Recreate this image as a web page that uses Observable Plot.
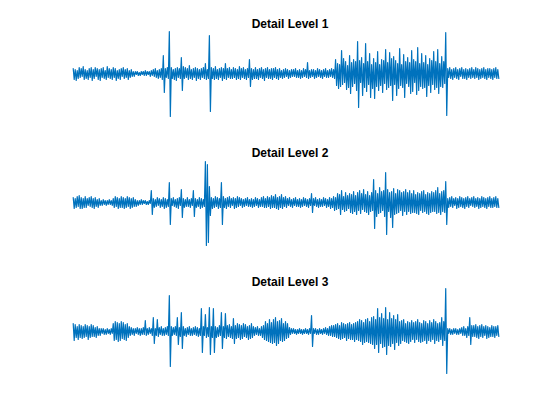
<!DOCTYPE html>
<html>
<head>
<meta charset="utf-8">
<script src="https://cdn.jsdelivr.net/npm/d3@7"></script>
<script src="https://cdn.jsdelivr.net/npm/@observablehq/plot@0.6"></script>
<style>
  html, body { margin: 0; padding: 0; background: #fff; }
  #chart { width: 560px; height: 420px; }
</style>
</head>
<body>
<div id="chart"></div>
<script>
const titles = ["Detail Level 1", "Detail Level 2", "Detail Level 3"];

const detail1 = [
  5,-6,4,-7,3,-5,6,-4,5,-3,7,-6,4,-5,3,-6,5,-4,6,-7,
  4,-5,6,-3,5,-6,4,-7,5,-4,6,-5,3,-6,7,-4,5,-5,4,-6,
  6,-4,5,-7,3,-5,4,-6,5,-3,6,-5,4,-4,5,-6,3,-4,4,-3,
  2,-3,2,-1,2,-2,1,-2,2,-1,2,-2,3,-2,2,-1,2,-3,3,-2,
  4,-3,5,-4,3,-5,4,-4,5,-6,18,-19,5,-4,6,-5,42,-43,6,-5,
  4,-6,5,-7,6,-4,5,-5,16,-17,7,-5,6,-4,5,-6,8,-5,4,-6,
  5,-4,6,-7,5,-5,4,-6,5,-4,6,-5,10,-6,4,-5,38,-38,6,-5,
  5,-6,7,-5,4,-6,5,-4,6,-7,5,-5,10,-6,5,-4,6,-5,4,-5,
  6,-4,5,-6,4,-5,7,-6,5,-4,6,-5,4,-6,5,-4,14,-13,5,-6,
  4,-5,6,-5,4,-6,5,-4,6,-5,4,-7,5,-4,6,-5,4,-5,5,-6,
  5,-4,6,-5,4,-6,5,-4,3,-5,4,-4,5,-3,4,-5,3,-4,4,-3,
  4,-3,5,-4,3,-4,4,-5,3,-4,5,-3,4,-4,11,-5,3,-4,4,-3,
  4,-5,3,-4,5,-3,4,-4,3,-5,4,-3,5,-4,3,-4,4,-3,5,-4,
  4,-5,14,-12,10,-15,9,-13,23,-11,15,-9,12,-16,8,-14,18,-20,11,-13,
  14,-10,12,-17,32,-34,13,-9,16,-22,10,-14,30,-18,12,-11,20,-24,9,-15,
  15,-25,11,-13,22,-17,9,-12,14,-19,13,-10,24,-16,11,-14,21,-12,15,-27,
  17,-11,13,-22,10,-15,25,-12,9,-14,19,-24,12,-10,16,-13,11,-20,23,-18,
  14,-9,12,-21,26,-17,10,-13,20,-15,11,-14,18,-23,9,-12,15,-19,13,-11,
  22,-16,12,-14,24,-20,10,-13,17,-14,12,-10,41,-42,5,-4,6,-5,4,-6,
  5,-4,6,-5,4,-6,5,-3,6,-5,4,-5,5,-6,4,-4,5,-5,6,-4,
  4,-5,6,-4,5,-6,4,-5,5,-4,6,-5,4,-6,5,-4,5,-5,4,-6,
  5,-4,6,-5,4,-5
];

const detail2 = [
  5,-6,4,-5,6,-4,7,-6,5,-6,4,-5,6,-5,4,-3,5,-4,6,-5,
  4,-6,5,-4,3,-5,4,-3,2,-3,3,-2,2,-3,2,-2,3,-2,2,-3,
  4,-5,6,-4,5,-6,4,-5,6,-5,5,-6,4,-5,6,-4,5,-6,4,-5,
  5,-4,3,-4,2,-3,2,-2,3,-2,2,-1,2,-2,1,-2,2,-1,12,-12,
  4,-5,3,-4,5,-3,4,-5,3,-4,5,-6,4,-5,3,-4,20,-22,4,-3,
  5,-4,3,-5,4,-6,5,-3,13,-15,4,-5,3,-4,5,-4,3,-5,4,-3,
  12,-14,4,-5,3,-4,5,-6,4,-5,3,-4,41,-43,38,-40,16,-13,5,-6,
  4,-5,6,-4,5,-6,4,-5,20,-22,6,-5,4,-6,5,-4,6,-5,4,-3,
  5,-6,4,-5,6,-4,5,-3,4,-5,3,-4,4,-3,5,-4,3,-4,4,-5,
  3,-4,5,-3,4,-5,3,-4,5,-4,6,-5,4,-5,6,-4,5,-6,7,-5,
  6,-5,8,-6,5,-7,6,-5,8,-6,5,-4,6,-5,4,-3,5,-4,3,-5,
  4,-3,5,-4,3,-4,4,-5,3,-4,5,-3,4,-4,3,-5,4,-3,9,-10,
  4,-3,5,-4,3,-5,4,-4,3,-4,5,-3,4,-5,3,-4,5,-6,4,-5,
  6,-8,5,-7,9,-6,8,-12,12,-7,6,-9,10,-8,7,-6,9,-10,8,-11,
  11,-9,7,-12,10,-8,12,-11,9,-7,13,-9,8,-10,11,-12,7,-9,10,-8,
  23,-26,12,-14,9,-11,15,-10,11,-8,12,-14,30,-32,13,-9,10,-15,11,-25,
  14,-12,9,-11,13,-10,12,-8,10,-13,11,-9,13,-12,10,-9,12,-11,9,-10,
  12,-10,8,-11,10,-12,9,-8,11,-10,12,-9,8,-11,10,-12,9,-10,11,-9,
  10,-9,12,-11,15,-10,9,-12,11,-9,12,-10,21,-22,4,-5,5,-4,6,-5,
  4,-3,5,-6,4,-5,6,-4,5,-5,4,-6,5,-4,6,-5,4,-3,5,-4,
  6,-5,4,-4,5,-6,4,-5,6,-4,5,-5,4,-6,5,-4,6,-5,4,-5,
  5,-4,6,-5,4,-5
];

const detail3 = [
  8,-9,7,-6,5,-8,7,-6,6,-7,5,-6,7,-5,6,-8,5,-6,7,-5,
  6,-5,4,-6,5,-4,3,-4,3,-2,3,-3,2,-3,3,-2,2,-3,3,-2,
  8,-9,10,-8,9,-10,8,-9,10,-7,9,-8,7,-9,8,-6,5,-4,4,-3,
  3,-4,3,-2,4,-3,3,-4,3,-3,4,-3,11,-4,3,-3,4,-2,3,-4,
  14,-12,3,-4,12,-5,4,-3,5,-4,3,-4,4,-3,5,-4,36,-35,5,-4,
  4,-3,5,-4,14,-13,4,-5,19,-17,5,-4,3,-5,4,-3,5,-4,3,-4,
  4,-3,5,-4,4,-5,3,-4,23,-21,5,-4,17,-6,4,-5,24,-23,5,-6,
  23,-21,5,-6,4,-5,6,-4,19,-17,5,-6,18,-7,6,-5,7,-6,5,-7,
  13,-12,6,-7,8,-6,7,-8,6,-7,8,-5,7,-6,5,-8,6,-7,8,-6,
  5,-4,4,-3,5,-4,3,-4,5,-6,6,-8,10,-9,8,-10,12,-11,9,-12,
  12,-11,14,-14,10,-12,11,-9,13,-10,8,-9,10,-7,8,-6,4,-3,3,-2,
  3,-2,2,-3,2,-2,3,-2,2,-3,2,-2,3,-2,2,-3,3,-2,16,-15,
  3,-2,3,-3,2,-3,3,-2,2,-3,3,-2,4,-3,3,-4,5,-4,6,-5,
  6,-5,7,-6,8,-7,6,-8,9,-7,8,-6,7,-9,8,-7,9,-8,7,-8,
  8,-10,9,-8,10,-9,12,-10,11,-13,9,-11,12,-10,13,-11,10,-12,14,-13,
  15,-17,12,-13,23,-21,14,-12,18,-16,13,-15,24,-23,12,-14,19,-15,13,-12,
  16,-18,12,-11,17,-14,10,-12,11,-9,12,-10,8,-11,10,-12,9,-10,11,-8,
  9,-11,10,-8,12,-10,9,-11,8,-10,11,-9,10,-12,8,-9,11,-10,9,-8,
  12,-12,10,-9,8,-10,9,-8,14,-14,10,-9,43,-42,3,-2,3,-3,2,-3,
  3,-2,3,-3,2,-3,3,-2,4,-4,5,-4,3,-6,5,-4,14,-13,6,-5,
  6,-5,7,-6,5,-7,6,-5,7,-6,5,-4,6,-7,5,-6,4,-5,6,-5,
  5,-6,5,-4,6,-5
];

const series = [detail1, detail2, detail3];
const rows = [];
series.forEach((vals, k) => vals.forEach((v, i) => rows.push({level: titles[k], i, v})));
const titleRows = titles.map(t => ({level: t, label: t}));
const n = Math.max(...series.map(s => s.length));

const chart = Plot.plot({
  width: 560,
  height: 420,
  marginLeft: 72.7,
  marginRight: 61.7,
  marginTop: 14,
  marginBottom: 30,
  style: {background: "#fff", fontFamily: "'Liberation Sans', Arial, sans-serif"},
  x: {domain: [0, n - 1], axis: null},
  y: {domain: [-59, 59], axis: null},
  fy: {domain: titles, axis: null, paddingInner: 11 / 129, paddingOuter: 0},
  marks: [
    Plot.line(rows, {x: "i", y: "v", fy: "level", stroke: "#0072BD", strokeWidth: 1.2}),
    Plot.text(titleRows, {
      fy: "level", text: "label", frameAnchor: "top", lineAnchor: "bottom",
      dy: 13.5, dx: 4, fontSize: 12, fontWeight: "bold", fill: "#000"
    })
  ]
});
document.getElementById("chart").appendChild(chart);
</script>
</body>
</html>
